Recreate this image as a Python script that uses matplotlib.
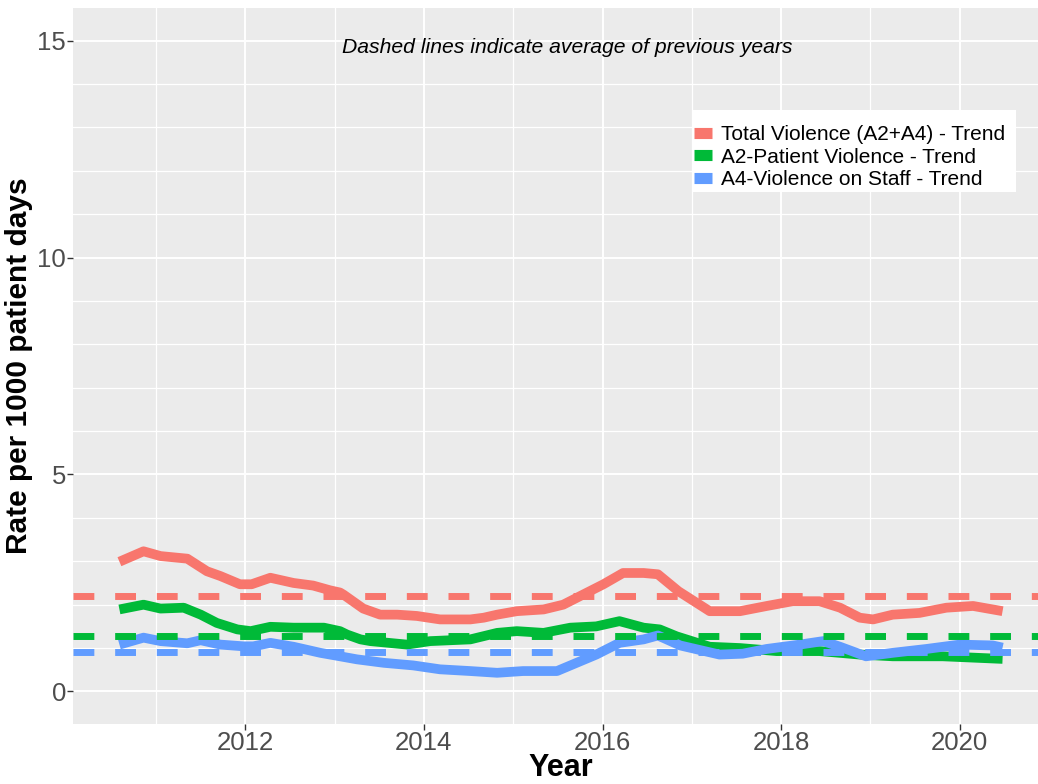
import numpy as np
import matplotlib
matplotlib.use("Agg")
import matplotlib.pyplot as plt
from matplotlib.lines import Line2D
from matplotlib.patches import Rectangle

plt.rcParams['font.family'] = ['Liberation Sans', 'DejaVu Sans']

# trend lines
total_x = [2010.59, 2010.86, 2011.05, 2011.35, 2011.57, 2011.72, 2011.94, 2012.07,
           2012.28, 2012.54, 2012.76, 2012.95, 2013.06, 2013.10, 2013.32, 2013.51,
           2013.70, 2013.92, 2014.18, 2014.52, 2014.67, 2014.82, 2015.04, 2015.34,
           2015.56, 2015.78, 2016.01, 2016.23, 2016.46, 2016.62, 2016.85, 2017.20,
           2017.54, 2017.84, 2018.13, 2018.43, 2018.66, 2018.88, 2019.03, 2019.25,
           2019.55, 2019.85, 2020.15, 2020.48]
total_y = [2.99, 3.23, 3.12, 3.06, 2.77, 2.66, 2.47, 2.47,
           2.62, 2.50, 2.44, 2.33, 2.28, 2.23, 1.91, 1.77,
           1.77, 1.74, 1.66, 1.66, 1.70, 1.77, 1.85, 1.89,
           2.00, 2.23, 2.47, 2.73, 2.73, 2.70, 2.31, 1.85,
           1.85, 1.97, 2.08, 2.08, 1.93, 1.70, 1.66, 1.77,
           1.81, 1.93, 1.97, 1.85]

patient_x = [2010.59, 2010.86, 2011.05, 2011.31, 2011.50, 2011.68, 2011.91, 2012.06,
             2012.28, 2012.54, 2012.88, 2013.06, 2013.14, 2013.29, 2013.40, 2013.81,
             2014.07, 2014.52, 2014.82, 2015.04, 2015.34, 2015.64, 2015.93, 2016.19,
             2016.46, 2016.64, 2016.83, 2017.20, 2017.54, 2017.95, 2018.43, 2018.88,
             2019.25, 2019.81, 2020.48]
patient_y = [1.89, 2.00, 1.91, 1.93, 1.77, 1.58, 1.43, 1.39,
             1.49, 1.47, 1.47, 1.39, 1.31, 1.20, 1.16, 1.08,
             1.16, 1.20, 1.35, 1.39, 1.35, 1.47, 1.50, 1.62,
             1.47, 1.43, 1.27, 1.03, 1.00, 0.93, 0.93, 0.85,
             0.81, 0.81, 0.75]

staff_x = [2010.59, 2010.86, 2011.05, 2011.35, 2011.50, 2011.72, 2011.98, 2012.09,
           2012.28, 2012.54, 2012.84, 2013.06, 2013.25, 2013.55, 2013.88, 2014.18,
           2014.52, 2014.82, 2015.11, 2015.49, 2015.71, 2015.93, 2016.19, 2016.46,
           2016.62, 2016.87, 2017.31, 2017.57, 2017.84, 2018.21, 2018.47, 2018.66,
           2018.95, 2019.25, 2019.63, 2020.00, 2020.37, 2020.48]
staff_y = [1.08, 1.24, 1.16, 1.11, 1.18, 1.08, 1.04, 1.04,
           1.12, 1.03, 0.89, 0.81, 0.74, 0.66, 0.60, 0.51,
           0.47, 0.43, 0.47, 0.47, 0.66, 0.85, 1.12, 1.20,
           1.29, 1.06, 0.85, 0.87, 0.98, 1.08, 1.16, 1.03,
           0.81, 0.89, 0.98, 1.08, 1.06, 1.01]

# averages of previous years (dashed)
avg_total = 2.19
avg_patient = 1.27
avg_staff = 0.90

labels = ["Total Violence (A2+A4) - Trend", "A2-Patient Violence - Trend",
          "A4-Violence on Staff - Trend"]
colors = ["#F8766D", "#00BA38", "#619CFF"]

fig = plt.figure(figsize=(10.38, 7.84), dpi=100)
ax = fig.add_axes([73 / 1038, 60 / 784, 976 / 1038, 716 / 784])
ax.set_facecolor("#EBEBEB")
for s in ax.spines.values():
    s.set_visible(False)

ax.set_xlim(2010.07, 2021.0)
ax.set_ylim(-0.75, 15.75)
ax.set_xticks([2012, 2014, 2016, 2018, 2020])
ax.set_xticks([2011, 2013, 2015, 2017, 2019, 2021], minor=True)
ax.set_yticks([0, 5, 10, 15])
ax.set_yticks([v for v in range(0, 16) if v % 5 != 0], minor=True)
ax.grid(which="major", color="white", lw=1.4)
ax.grid(which="minor", color="white", lw=0.9)
ax.set_axisbelow(True)
ax.tick_params(which="major", length=4, width=1, color="#333333",
               labelsize=18.5, labelcolor="#4D4D4D", pad=1)
ax.tick_params(which="minor", length=0)

series = [(total_x, total_y), (patient_x, patient_y), (staff_x, staff_y)]
for (xs, ys), c in zip(series, colors):
    ax.plot(xs, ys, color=c, lw=7, solid_capstyle="butt", solid_joinstyle="round")

for v, c in zip([avg_total, avg_patient, avg_staff], colors):
    ax.axhline(v, color=c, lw=5, linestyle=(0, (3, 3)), dash_capstyle="butt")

ax.text(2015.6, 14.85, "Dashed lines indicate average of previous years",
        style="italic", fontsize=15.2, ha="center", va="center")

fig.text(561 / 1038, 1 / 784, "Year", fontsize=22, fontweight="bold",
         ha="center", va="bottom")
ax.set_ylabel("Rate per 1000 patient days", fontsize=21.5, fontweight="bold", labelpad=3)

# legend box (white, with empty title space on top like ggplot)
ax.add_patch(Rectangle((692 / 1038, 1 - 192 / 784), 324 / 1038, 82 / 784,
                       transform=fig.transFigure, facecolor="white",
                       edgecolor="none", zorder=5, clip_on=False))
handles = [Line2D([], [], color=c, lw=8, solid_capstyle="butt") for c in colors]
leg = ax.legend(handles, labels, loc="upper left",
                bbox_to_anchor=(694 / 1038, 1 - 125 / 784), bbox_transform=fig.transFigure,
                fontsize=15, frameon=False, handlelength=0.85, handletextpad=0.45,
                labelspacing=0.17, borderpad=0, borderaxespad=0)
leg.set_zorder(6)

fig.savefig("out.png", dpi=100)
